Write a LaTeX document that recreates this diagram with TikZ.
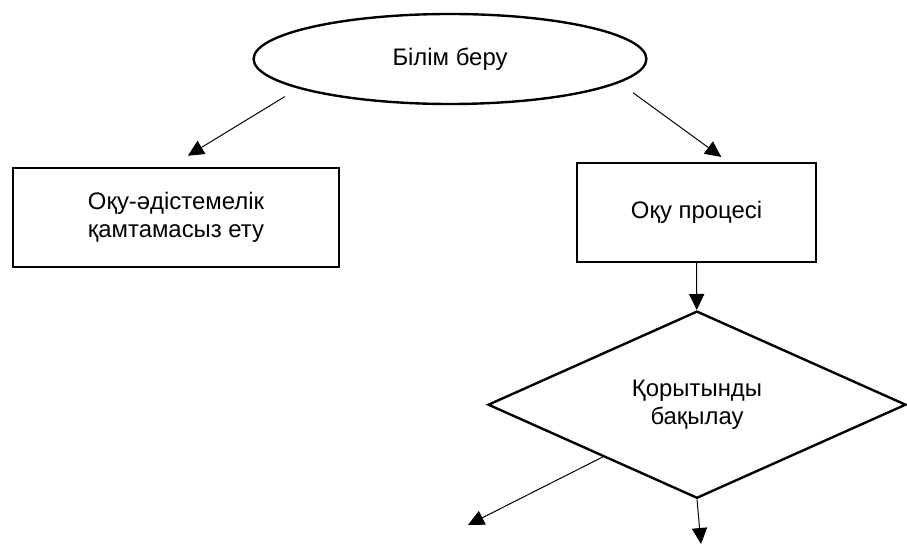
\documentclass[tikz,border=0pt]{standalone}
\usepackage{fontspec}
\setmainfont{Liberation Sans}
\usepackage{tikz}
\usetikzlibrary{shapes,arrows.meta,positioning}

\begin{document}
\begin{tikzpicture}[node distance=1.17cm, auto,
    font=\fontsize{17}{19.5}\selectfont,
    box/.style={draw, rectangle, line width=1.7pt, minimum height=2.47cm, align=center},
    link/.style={-{Triangle[length=0.4cm, width=0.38cm]}, line width=0.7pt}]
  \useasboundingbox (0,0) rectangle (22.675,13.6);
  \node[draw, ellipse, line width=1.7pt, minimum width=9.82cm, minimum height=2.25cm] (edu) at (11.25,12.125) {Білім беру};
  \node[box, minimum width=8.15cm] (method) at (4.4,8.1625) {Оқу-әдістемелік\\қамтамасыз ету};
  \node[box, minimum width=5.98cm] (process) at (17.4125,8.2875) {Оқу процесі};
  \node[draw, diamond, aspect=2.25, line width=1.7pt, minimum width=10.45cm, minimum height=4.68cm, align=center, below=of process, xshift=0.0125cm] (control) {Қорытынды\\бақылау};
  \coordinate (leftout) at (11.7,0.475);
  \coordinate (downout) at (17.525,0);

  \draw[link, shorten <=0.39cm, shorten >=0.535cm] (edu.191) -- ([xshift=-0.16cm]method.north);
  \draw[link, shorten <=0.425cm, shorten >=0.21cm] (edu.-8) -- ([xshift=0.79cm]process.north);
  \draw[link] (process) -- (control);
  \draw[link] (control.south) -- (downout);
  \draw[link] (control.209) -- (leftout);
\end{tikzpicture}
\end{document}
